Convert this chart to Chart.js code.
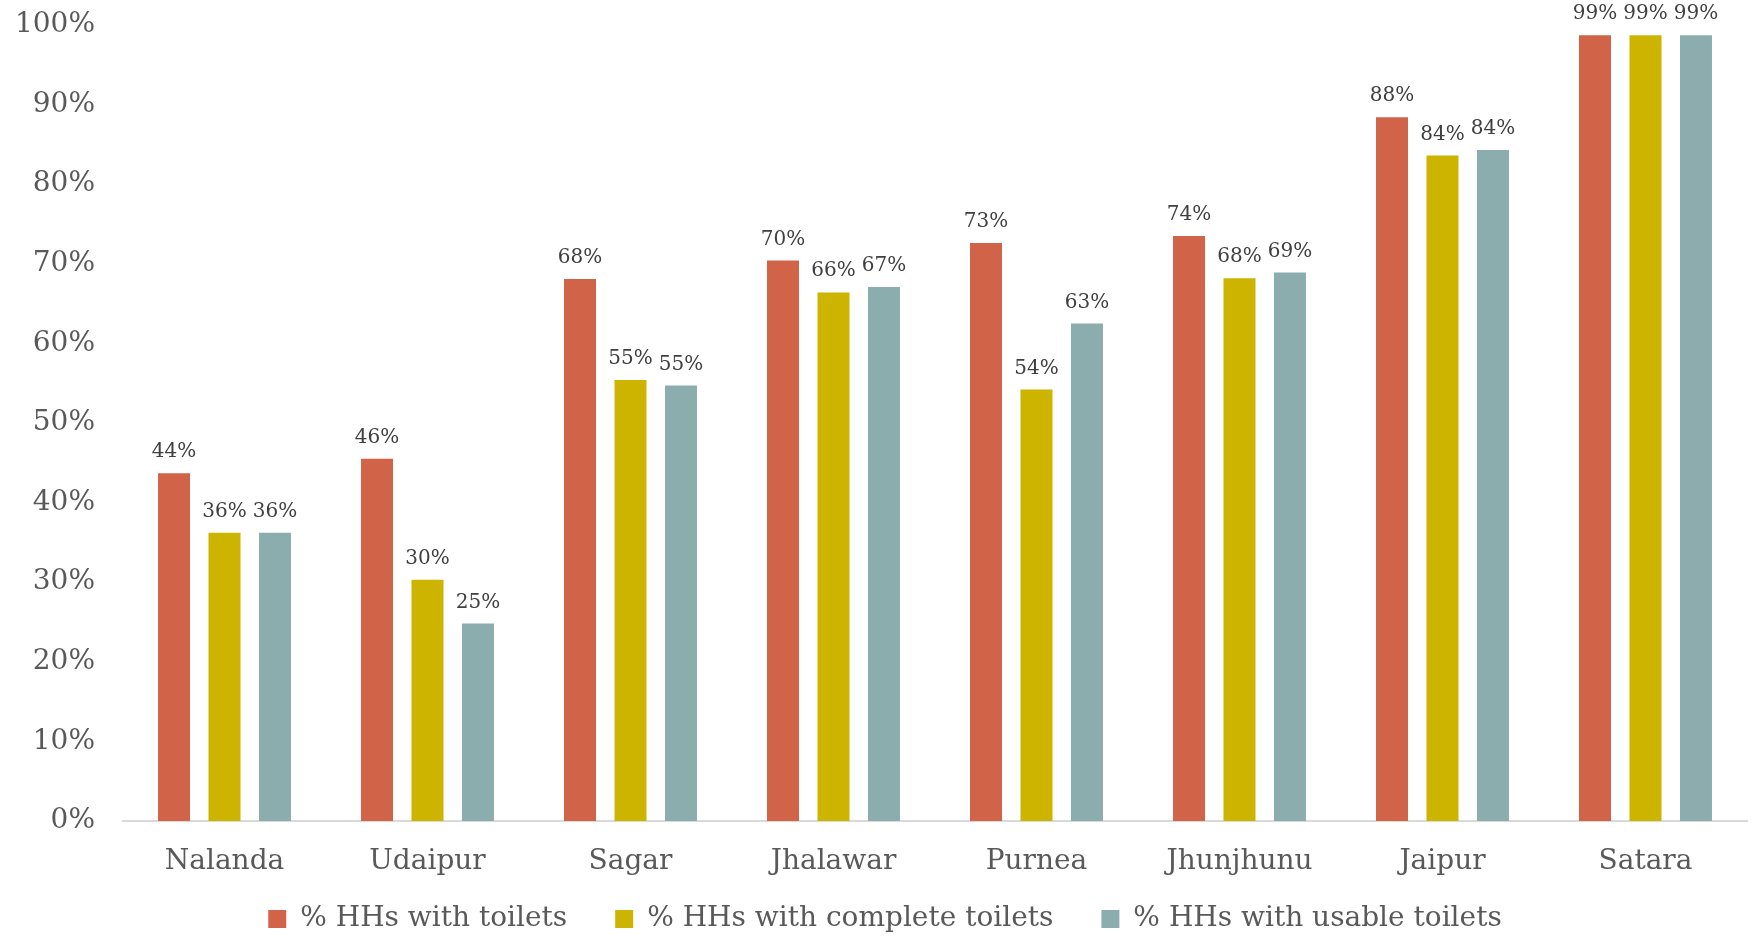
<!DOCTYPE html>
<html>
<head>
<meta charset="utf-8">
<script src="https://cdn.jsdelivr.net/npm/chart.js@4.4.1/dist/chart.umd.min.js"></script>
<style>
html,body{margin:0;padding:0;background:#fff;}
#wrap{width:1755px;height:936px;position:relative;}
</style>
</head>
<body>
<div id="wrap"><canvas id="c" width="1755" height="936"></canvas></div>
<script>
const categories = ['Nalanda','Udaipur','Sagar','Jhalawar','Purnea','Jhunjhunu','Jaipur','Satara'];
const seriesNames = ['% HHs with toilets','% HHs with complete toilets','% HHs with usable toilets'];
const withToilets = [43.7, 45.5, 68.1, 70.4, 72.6, 73.5, 88.4, 98.7];
const completeToilets = [36.2, 30.3, 55.4, 66.4, 54.2, 68.2, 83.6, 98.7];
const usableToilets = [36.2, 24.8, 54.7, 67.1, 62.5, 68.9, 84.3, 98.7];
const yTicks = [0,10,20,30,40,50,60,70,80,90,100];

const FONT = "'DejaVu Serif', 'Liberation Serif', serif";
const colors = ['#D16349', '#CCB400', '#8CADAE'];

const labelPlugin = {
  id: 'barLabels',
  afterDatasetsDraw(chart) {
    const ctx = chart.ctx;
    ctx.save();
    ctx.font = "20px " + FONT;
    ctx.fillStyle = '#404040';
    ctx.textAlign = 'center';
    ctx.textBaseline = 'alphabetic';
    chart.data.datasets.forEach((ds, i) => {
      const meta = chart.getDatasetMeta(i);
      meta.data.forEach((bar, j) => {
        ctx.fillText(Math.round(ds.data[j]) + '%', bar.x, bar.y - 16);
      });
    });
    ctx.restore();
  }
};

new Chart(document.getElementById('c'), {
  type: 'bar',
  data: {
    labels: categories,
    datasets: [
      {label: seriesNames[0], data: withToilets, backgroundColor: colors[0]},
      {label: seriesNames[1], data: completeToilets, backgroundColor: colors[1]},
      {label: seriesNames[2], data: usableToilets, backgroundColor: colors[2]}
    ]
  },
  options: {
    responsive: false,
    animation: false,
    devicePixelRatio: 1,
    layout: {padding: {top: 25, right: 8, left: 23, bottom: 0}},
    datasets: {bar: {categoryPercentage: 0.746, barPercentage: 0.634}},
    plugins: {
      legend: {
        position: 'bottom',
        maxHeight: 79,
        labels: {
          font: {family: FONT, size: 28},
          color: '#595959',
          boxWidth: 18,
          boxHeight: 18,
          padding: 48
        }
      },
      tooltip: {enabled: false}
    },
    scales: {
      x: {
        afterFit(scale) {
          scale.height = 36;
          scale._computeLabelArea = function () { return undefined; };
        },
        grid: {display: false, drawTicks: false},
        border: {display: true, color: '#D9D9D9', width: 2},
        ticks: {font: {family: FONT, size: 28}, color: '#595959', padding: 24}
      },
      y: {
        min: 0, max: 100,
        afterBuildTicks(scale) { scale.ticks = yTicks.map(v => ({value: v})); },
        afterFit(scale) {
          scale.width = 100; scale.paddingTop = 0; scale.paddingBottom = 0;
          scale._computeLabelArea = function () { return undefined; };
        },
        grid: {display: false, drawTicks: false},
        border: {display: false},
        ticks: {font: {family: FONT, size: 28}, color: '#595959', padding: 28,
                callback: v => v + '%'}
      }
    }
  },
  plugins: [labelPlugin]
});
</script>
</body>
</html>
